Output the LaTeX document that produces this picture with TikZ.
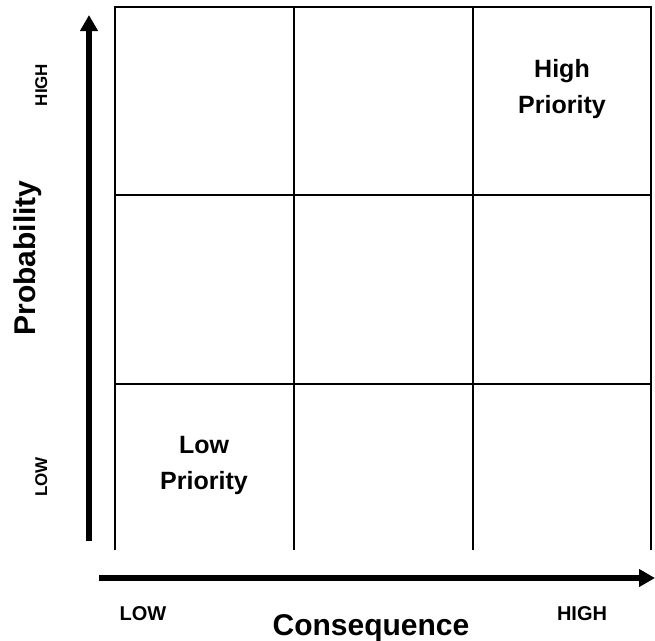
\documentclass[tikz,border=0pt]{standalone}
\usepackage{fontspec}
\setmainfont{Liberation Sans}
\usetikzlibrary{arrows.meta}
\begin{document}
\begin{tikzpicture}[x=1pt,y=-1pt,
  gridline/.style={line width=2pt, line cap=rect},
  axisarrow/.style={line width=6pt, -{Triangle[width=17pt,length=16pt]}},
  celltext/.style={font=\bfseries\fontsize{25}{30}\selectfont, anchor=base, inner sep=0pt},
  axistitle/.style={font=\bfseries\fontsize{30}{36}\selectfont, anchor=base, inner sep=0pt},
  sidelabel/.style={font=\bfseries\fontsize{17}{20}\selectfont, anchor=base, inner sep=0pt},
  bottomlabel/.style={font=\bfseries\fontsize{20}{24}\selectfont, anchor=base, inner sep=0pt}]
\useasboundingbox (0,0) rectangle (655,640);
% grid
\draw[gridline] (115,549) -- (115,7) -- (651,7) -- (651,549);
\draw[gridline] (294,7) -- (294,549);
\draw[gridline] (473,7) -- (473,549);
\draw[gridline] (115,195) -- (651,195);
\draw[gridline] (115,384) -- (651,384);
% axes
\coordinate (vstart) at (89,541);
\coordinate (vend) at (89,15);
\coordinate (hstart) at (99,578);
\coordinate (hend) at (655,578);
\draw[axisarrow] (vstart) -- (vend);
\draw[axisarrow] (hstart) -- (hend);
% cell texts
\node[celltext] (hp1) at (562,77) {High};
\node[celltext] (hp2) at (562,113) {Priority};
\node[celltext] (lp1) at (204,453) {Low};
\node[celltext] (lp2) at (204,489) {Priority};
% axis titles
\node[axistitle, rotate=90] (prob) at (35,258) {Probability};
\node[axistitle] (cons) at (371,635) {Consequence};
% labels
\node[sidelabel, rotate=90] (yhigh) at (47,85) {HIGH};
\node[sidelabel, rotate=90] (ylow) at (47,477) {LOW};
\node[bottomlabel] (xlow) at (143,620) {LOW};
\node[bottomlabel] (xhigh) at (582,620) {HIGH};
\end{tikzpicture}
\end{document}
